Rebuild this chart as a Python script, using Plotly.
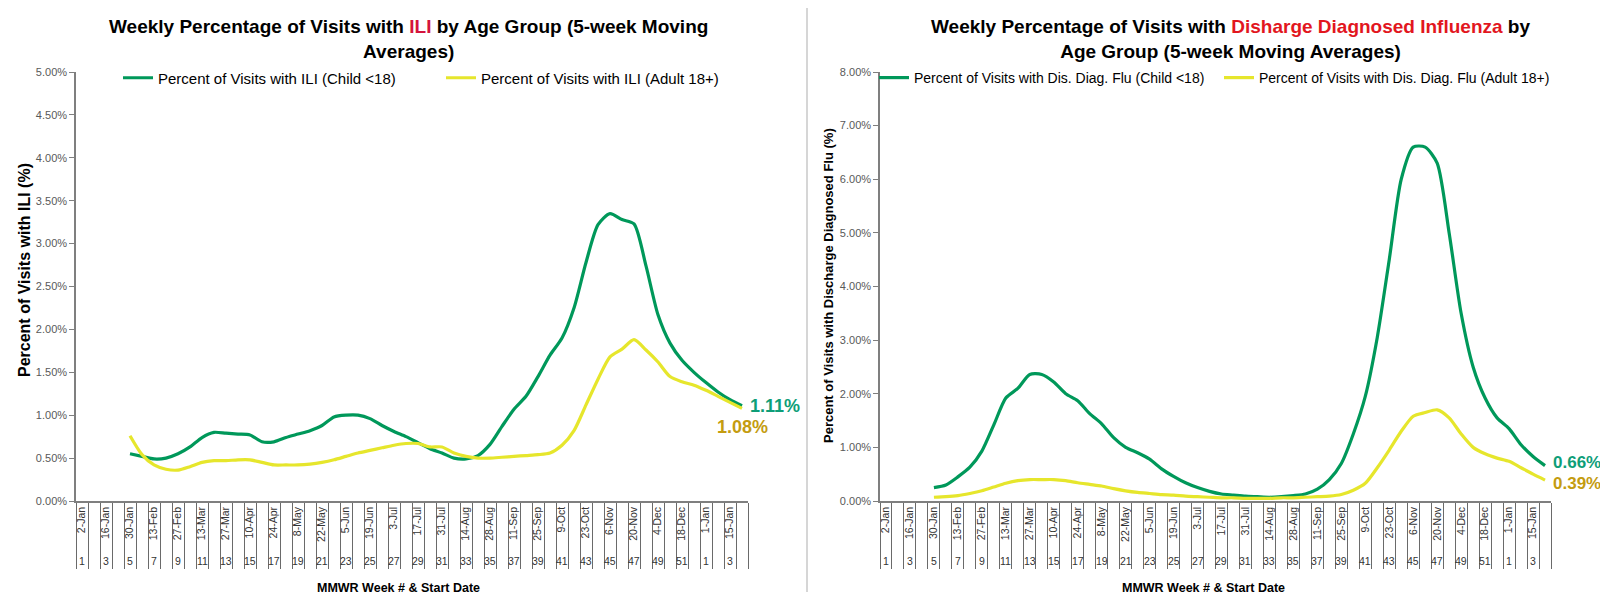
import plotly.graph_objects as go

W, H = 1608, 592

# ---- categories: MMWR week numbers and start dates (2022 wk1 .. 2023 wk4)
week_numbers = list(range(1, 53)) + [1, 2, 3, 4]
start_dates = [
    "2-Jan", "9-Jan", "16-Jan", "23-Jan", "30-Jan", "6-Feb", "13-Feb", "20-Feb",
    "27-Feb", "6-Mar", "13-Mar", "20-Mar", "27-Mar", "3-Apr", "10-Apr", "17-Apr",
    "24-Apr", "1-May", "8-May", "15-May", "22-May", "29-May", "5-Jun", "12-Jun",
    "19-Jun", "26-Jun", "3-Jul", "10-Jul", "17-Jul", "24-Jul", "31-Jul", "7-Aug",
    "14-Aug", "21-Aug", "28-Aug", "4-Sep", "11-Sep", "18-Sep", "25-Sep", "2-Oct",
    "9-Oct", "16-Oct", "23-Oct", "30-Oct", "6-Nov", "13-Nov", "20-Nov", "27-Nov",
    "4-Dec", "11-Dec", "18-Dec", "25-Dec", "1-Jan", "8-Jan", "15-Jan", "22-Jan",
]
first_data_index = 4  # data start at week 5 (5-week moving average)

# ---- series (percent), weeks 5 .. 2023 wk4
ili_child = [
    0.55, 0.52, 0.49, 0.50, 0.55, 0.63, 0.74, 0.80, 0.79, 0.78, 0.77, 0.69,
    0.69, 0.74, 0.78, 0.82, 0.88, 0.98, 1.00, 1.00, 0.96, 0.88, 0.81, 0.75,
    0.68, 0.61, 0.56, 0.50, 0.49, 0.53, 0.66, 0.87, 1.07, 1.22, 1.45, 1.70,
    1.90, 2.25, 2.78, 3.22, 3.35, 3.28, 3.23, 2.74, 2.17, 1.84, 1.64, 1.50,
    1.38, 1.27, 1.18, 1.11,
]
ili_adult = [
    0.76, 0.54, 0.42, 0.37, 0.36, 0.40, 0.45, 0.47, 0.47, 0.48, 0.48, 0.45,
    0.42, 0.42, 0.42, 0.43, 0.45, 0.48, 0.52, 0.56, 0.59, 0.62, 0.65, 0.67,
    0.67, 0.63, 0.63, 0.56, 0.52, 0.50, 0.50, 0.51, 0.52, 0.53, 0.54, 0.56,
    0.65, 0.82, 1.12, 1.42, 1.68, 1.77, 1.88, 1.76, 1.62, 1.45, 1.39, 1.35,
    1.29, 1.22, 1.15, 1.08,
]
flu_child = [
    0.25, 0.30, 0.45, 0.63, 0.93, 1.42, 1.92, 2.10, 2.36, 2.36, 2.22, 2.00,
    1.87, 1.63, 1.44, 1.18, 1.00, 0.90, 0.78, 0.60, 0.46, 0.34, 0.25, 0.18,
    0.13, 0.11, 0.09, 0.08, 0.07, 0.08, 0.10, 0.13, 0.22, 0.40, 0.70, 1.25,
    1.95, 3.05, 4.50, 6.00, 6.60, 6.60, 6.30, 5.00, 3.50, 2.50, 1.92, 1.55,
    1.35, 1.05, 0.83, 0.66,
]
flu_adult = [
    0.07, 0.08, 0.10, 0.14, 0.19, 0.26, 0.33, 0.38, 0.40, 0.40, 0.40, 0.38,
    0.34, 0.31, 0.28, 0.23, 0.19, 0.16, 0.14, 0.12, 0.11, 0.09, 0.08, 0.07,
    0.06, 0.06, 0.05, 0.05, 0.05, 0.06, 0.06, 0.07, 0.08, 0.09, 0.12, 0.20,
    0.33, 0.62, 0.95, 1.30, 1.58, 1.65, 1.70, 1.55, 1.25, 1.00, 0.88, 0.80,
    0.74, 0.62, 0.50, 0.39,
]

GREEN = "#00985A"
YELLOW = "#E6E62C"
GREEN_LBL = "#0E9E78"
GOLD_LBL = "#C49C10"
AXIS = "#7F7F7F"
FONT = "Liberation Sans, Arial, sans-serif"

positions = list(range(1, len(start_dates) + 1))
x_data = positions[first_data_index:]
label_pos = positions[::2]
label_dates = start_dates[::2]
label_weeks = week_numbers[::2]

fig = go.Figure()

def add_series(y, name, color, xa, ya, legend):
    fig.add_trace(go.Scatter(
        x=x_data, y=y, name=name, mode="lines",
        line=dict(color=color, width=3.2, shape="spline", smoothing=0.7),
        xaxis=xa, yaxis=ya, legend=legend, hoverinfo="skip",
    ))

add_series(ili_child, "Percent of Visits with ILI (Child <18)", GREEN, "x", "y", "legend")
add_series(ili_adult, "Percent of Visits with ILI (Adult 18+)", YELLOW, "x", "y", "legend")
add_series(flu_child, "Percent of Visits with Dis. Diag. Flu (Child <18)", GREEN, "x2", "y2", "legend2")
add_series(flu_adult, "Percent of Visits with Dis. Diag. Flu (Adult 18+)", YELLOW, "x2", "y2", "legend2")

ydom = [1 - 493 / H, 1 - 64 / H]

def xaxis_cfg(x0, x1):
    return dict(
        domain=[x0 / W, x1 / W], range=[0.5, len(start_dates) + 0.5],
        tickmode="array", tickvals=label_pos, ticktext=label_dates,
        tickangle=-90, ticks="", showgrid=False, zeroline=False,
        showline=True, linecolor=AXIS, linewidth=1.5,
        tickfont=dict(family=FONT, size=10.5, color="#333333"),
        minor=dict(tickmode="linear", tick0=0.5, dtick=1, ticks="outside",
                   ticklen=66, tickcolor="#6A6A6A", tickwidth=1, showgrid=False),
        automargin=False, fixedrange=True,
    )

def yaxis_cfg(ymax, dtick, anchor):
    return dict(
        domain=ydom, range=[0, ymax], dtick=dtick, tick0=0,
        tickformat=".2f", ticksuffix="%", ticks="outside", ticklen=5,
        tickcolor=AXIS, showgrid=False, zeroline=False,
        showline=True, linecolor=AXIS, linewidth=1.5, anchor=anchor,
        tickfont=dict(family=FONT, size=11, color="#595959"),
        automargin=False, fixedrange=True,
    )

fig.update_layout(
    width=W, height=H, margin=dict(l=0, r=0, t=0, b=0),
    paper_bgcolor="white", plot_bgcolor="white",
    template="none", font=dict(family=FONT, color="#000000"),
    xaxis=dict(anchor="y", **xaxis_cfg(68, 740)),
    yaxis=yaxis_cfg(5, 0.5, "x"),
    xaxis2=dict(anchor="y2", **xaxis_cfg(872, 1543)),
    yaxis2=yaxis_cfg(8, 1, "x2"),
    legend=dict(orientation="h", x=110 / W, xanchor="left", y=1 - 70 / H, yanchor="middle",
                font=dict(family=FONT, size=15, color="#000000"), bgcolor="rgba(0,0,0,0)",
                entrywidth=278, entrywidthmode="pixels", itemwidth=30),
    legend2=dict(orientation="h", x=866 / W, xanchor="left", y=1 - 70 / H, yanchor="middle",
                 font=dict(family=FONT, size=14, color="#000000"), bgcolor="rgba(0,0,0,0)",
                 entrywidth=300, entrywidthmode="pixels", itemwidth=30),
    showlegend=True,
)

ann = []
# titles
ann.append(dict(
    text="<b>Weekly Percentage of Visits with <span style='color:#D4143C'>ILI</span> by Age Group (5-week Moving<br>Averages)</b>",
    x=400 / W, y=1 - 6 / H, xref="paper", yref="paper", xanchor="center", yanchor="top",
    showarrow=False, font=dict(family=FONT, size=19, color="#000000")))
ann.append(dict(
    text="<b>Weekly Percentage of Visits with <span style='color:#E2161E'>Disharge Diagnosed Influenza</span> by<br>Age Group (5-week Moving Averages)</b>",
    x=1222 / W, y=1 - 6 / H, xref="paper", yref="paper", xanchor="center", yanchor="top",
    showarrow=False, font=dict(family=FONT, size=19, color="#000000")))
# axis titles
for xc, yc, txt, fs in [(16, 262, "Percent of Visits with ILI (%)", 16),
                        (821, 278, "Percent of Visits with Discharge Diagnosed Flu (%)", 13)]:
    ann.append(dict(text="<b>" + txt + "</b>", x=xc / W, y=1 - yc / H, xref="paper", yref="paper",
                    textangle=-90, showarrow=False, xanchor="center", yanchor="middle",
                    font=dict(family=FONT, size=fs, color="#000000")))
for xc in [390, 1195]:
    ann.append(dict(text="<b>MMWR Week # &amp; Start Date</b>", x=xc / W, y=1 - 580 / H,
                    xref="paper", yref="paper", showarrow=False, xanchor="center", yanchor="middle",
                    font=dict(family=FONT, size=12.5, color="#000000")))
# week numbers under the dates
for xr in ["x", "x2"]:
    for p, wk in zip(label_pos, label_weeks):
        ann.append(dict(text=str(wk), x=p, y=1 - 553 / H, xref=xr, yref="paper",
                        showarrow=False, xanchor="center", yanchor="middle",
                        font=dict(family=FONT, size=10.5, color="#333333")))
# end-of-series labels
last_x = x_data[-1]
ann.append(dict(text="<b>%.2f%%</b>" % ili_child[-1], x=last_x, y=ili_child[-1], xref="x", yref="y",
                showarrow=False, xanchor="left", yanchor="middle", xshift=6, yshift=0,
                font=dict(family=FONT, size=18, color=GREEN_LBL)))
ann.append(dict(text="<b>%.2f%%</b>" % ili_adult[-1], x=last_x, y=ili_adult[-1], xref="x", yref="y",
                showarrow=False, xanchor="center", yanchor="middle", yshift=-19,
                font=dict(family=FONT, size=18, color=GOLD_LBL)))
ann.append(dict(text="<b>%.2f%%</b>" % flu_child[-1], x=last_x, y=flu_child[-1], xref="x2", yref="y2",
                showarrow=False, xanchor="left", yanchor="middle", xshift=6, yshift=3,
                font=dict(family=FONT, size=17, color=GREEN_LBL)))
ann.append(dict(text="<b>%.2f%%</b>" % flu_adult[-1], x=last_x, y=flu_adult[-1], xref="x2", yref="y2",
                showarrow=False, xanchor="left", yanchor="middle", xshift=6, yshift=-3,
                font=dict(family=FONT, size=17, color=GOLD_LBL)))
fig.update_layout(annotations=ann)

fig.add_shape(type="line", xref="paper", yref="paper", x0=799 / W, x1=799 / W, y0=0, y1=1,
              line=dict(color="#C8C8C8", width=1.5))

fig.write_html("out.html")
